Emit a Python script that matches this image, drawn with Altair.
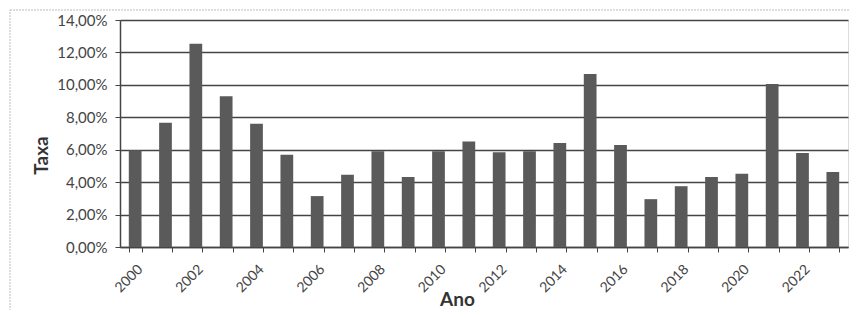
import altair as alt
import pandas as pd

anos = [2000, 2001, 2002, 2003, 2004, 2005, 2006, 2007, 2008, 2009, 2010, 2011,
        2012, 2013, 2014, 2015, 2016, 2017, 2018, 2019, 2020, 2021, 2022, 2023]
taxas = [5.97, 7.67, 12.53, 9.30, 7.60, 5.69, 3.14, 4.46, 5.90, 4.31, 5.91, 6.50,
         5.84, 5.91, 6.41, 10.67, 6.29, 2.95, 3.75, 4.31, 4.52, 10.06, 5.79, 4.62]
y_ticks = [0, 2, 4, 6, 8, 10, 12, 14]

df = pd.DataFrame({"Ano": [str(a) for a in anos], "Taxa": taxas})

FONT = "Lato"

bars = alt.Chart(df).mark_bar(color="#5a5a5a").encode(
    x=alt.X("Ano:N", sort=None,
            scale=alt.Scale(paddingInner=0.58, paddingOuter=0.29),
            axis=alt.Axis(
                title="Ano", labelAngle=315, labelFont=FONT, labelFontSize=14,
                labelColor="#444", labelPadding=10, tickBand="extent",
                tickSize=5, tickColor="#444", domainColor="#444", domainWidth=1.5,
                labelExpr="parseInt(datum.value) % 2 == 0 ? datum.label : ''",
                titleFont=FONT, titleFontSize=19, titleFontWeight="bold",
                titleColor="#333", titleX=337, titleY=58,
                titleBaseline="alphabetic", titleAnchor="middle", grid=False)),
    y=alt.Y("Taxa:Q",
            scale=alt.Scale(domain=[0, 14], nice=False),
            axis=alt.Axis(
                title="Taxa", values=y_ticks, labelFont=FONT, labelFontSize=15,
                labelColor="#444",
                labelExpr="replace(format(datum.value, '.2f'), '.', ',') + '%'",
                tickSize=5, tickColor="#444", labelPadding=8,
                domainColor="#444", domainWidth=1.5,
                gridColor="#444", gridWidth=1.6,
                titleFont=FONT, titleFontSize=19, titleFontWeight="bold",
                titleColor="#333", titleX=-73, titleY=135,
                titleBaseline="alphabetic", titleAlign="center")),
)

frame = alt.Chart(alt.Data(values=[{"a": 1}])).mark_rect(
    fill="transparent", stroke="#bbbbbb", strokeWidth=1, strokeDash=[2, 1]
).encode(x=alt.value(-110), x2=alt.value(735), y=alt.value(-10), y2=alt.value(293))

chart = alt.layer(frame, bars).properties(
    width=728, height=227,
    padding={"left": 112, "top": 12, "right": 2, "bottom": 63},
    autosize=alt.AutoSizeParams(type="none"),
).configure_view(stroke=None).configure(background="white")

chart.save("out.html", embed_options={"renderer": "svg", "actions": False})
